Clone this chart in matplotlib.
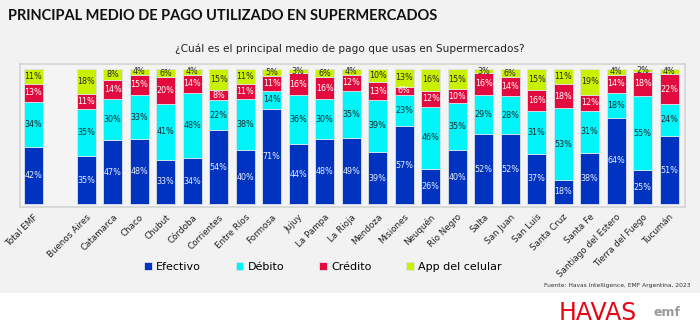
import numpy as np
import matplotlib.pyplot as plt
from matplotlib.patches import Rectangle

# Medio de pago principal en supermercados, por provincia (%)
provincias = ["Total EMF", "", "Buenos Aires", "Catamarca", "Chaco", "Chubut", "Córdoba",
              "Corrientes", "Entre Ríos", "Formosa", "Jujuy", "La Pampa", "La Rioja",
              "Mendoza", "Misiones", "Neuquén", "Río Negro", "Salta", "San Juan",
              "San Luis", "Santa Cruz", "Santa Fe", "Santiago del Estero",
              "Tierra del Fuego", "Tucumán"]
efectivo = [42, 0, 35, 47, 48, 33, 34, 54, 40, 71, 44, 48, 49, 39, 57, 26, 40, 52, 52, 37, 18, 38, 64, 25, 51]
debito = [34, 0, 35, 30, 33, 41, 48, 22, 38, 14, 36, 30, 35, 39, 23, 46, 35, 29, 28, 31, 53, 31, 18, 55, 24]
credito = [13, 0, 11, 14, 15, 20, 14, 8, 11, 11, 16, 16, 12, 13, 6, 12, 10, 16, 14, 16, 18, 12, 14, 18, 22]
app = [11, 0, 18, 8, 4, 6, 4, 15, 11, 5, 3, 6, 4, 10, 13, 16, 15, 3, 6, 15, 11, 19, 4, 2, 4]

series = [("Efectivo", efectivo, "#0033c0", "#e8eeff"),
          ("Débito", debito, "#00f4f8", "#1f2a30"),
          ("Crédito", credito, "#e30b3d", "#ffffff"),
          ("App del celular", app, "#c8f000", "#2a2a2a")]

bg = "#f2f2f2"
fig = plt.figure(figsize=(7, 3.34), dpi=100, facecolor=bg)
ax = fig.add_axes([0.0286, 0.38, 0.95, 0.428])
ax.set_facecolor("#f4f4f4")

x = np.arange(len(provincias))
totales = np.array([sum(v) for v in zip(efectivo, debito, credito, app)], dtype=float)
totales[totales == 0] = 1
base = np.zeros(len(provincias))
for nombre, vals, color, txt in series:
    vals = np.array(vals, dtype=float)
    alto = vals / totales * 100
    mask = vals > 0
    ax.bar(x[mask], alto[mask], bottom=base[mask], width=0.72, color=color,
           edgecolor="#dde3ea", linewidth=0.6, label=nombre)
    for xi, b, h, v in zip(x[mask], base[mask], alto[mask], vals[mask]):
        ax.text(xi, b + h / 2, f"{int(v)}%", ha="center", va="center",
                fontsize=5.8, color=txt)
    base += np.where(mask, alto, 0)

ax.set_xlim(-0.5, 24.6)
ax.set_ylim(-2.2, 103.7)
ax.set_yticks([])
ax.set_xticks(x)
ax.set_xticklabels(provincias, rotation=45, ha="right", rotation_mode="anchor",
                   fontsize=6.3, color="#222222")
ax.tick_params(axis="x", length=0, pad=4)
for s in ax.spines.values():
    s.set_color("#d4d4d4")
    s.set_linewidth(1.2)

fig.text(8 / 700, 1 - 16 / 334, "PRINCIPAL MEDIO DE PAGO UTILIZADO EN SUPERMERCADOS",
         fontsize=10.5, fontweight="bold", family=["Lato", "DejaVu Sans"],
         color="#111111", va="center", ha="left")
fig.text(0.5, 1 - 49 / 334, "¿Cuál es el principal medio de pago que usas en Supermercados?",
         fontsize=7.6, color="#222222", ha="center", va="center")

fig.legend(loc="center", bbox_to_anchor=(323 / 700, 1 - 267 / 334), ncol=4, frameon=False,
           fontsize=8, handlelength=0.7, handleheight=0.7, handletextpad=0.4,
           columnspacing=3.1)

fig.text(691 / 700, 1 - 286 / 334, "Fuente: Havas Intelligence, EMF Argentina, 2023",
         fontsize=4.3, color="#333333", ha="right", va="center")

# franja blanca inferior con el logo
fig.patches.append(Rectangle((0, 0), 1, (334 - 293) / 334, transform=fig.transFigure,
                             facecolor="white", edgecolor="none", zorder=0))
fig.text(598 / 700, 1 - 313 / 334, "HAVAS", fontsize=17, color="#e30613",
         ha="center", va="center", family="DejaVu Sans")
fig.text(667 / 700, 1 - 313 / 334, "emf", fontsize=9, color="#9a9a9a",
         ha="center", va="center", fontweight="bold")

fig.savefig("out.png", dpi=100, facecolor=bg)
